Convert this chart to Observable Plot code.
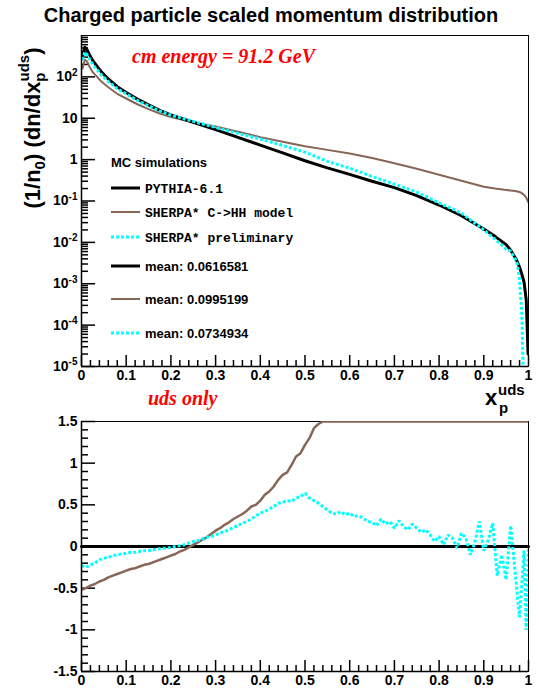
<!DOCTYPE html>
<html><head><meta charset="utf-8">
<script src="https://cdn.jsdelivr.net/npm/d3@7"></script>
<script src="https://cdn.jsdelivr.net/npm/@observablehq/plot@0.6"></script>
<style>
body{margin:0;background:#fff;}
#wrap{position:relative;width:539px;height:692px;overflow:hidden;font-family:"Liberation Sans",Arial,sans-serif;}
#wrap svg{position:absolute;left:0;}
</style></head><body><div id="wrap"></div>
<script>
// ---------- data ----------
const xTop = [0.0025,0.0075,0.0125,0.0175,0.025,0.035,0.045,0.06,0.08,0.1,0.125,0.15,0.175,0.2,0.25,0.3,0.35,0.4,0.45,0.5,0.55,0.6,0.65,0.7,0.75,0.8,0.85,0.9,0.925,0.95,0.96,0.97,0.975,0.98,0.985,0.99,0.995,0.999];
const pythiaTop = [330,520,450,350,250,180,130,89,58,42,29,21,15.5,12,8.0,5.3,3.45,2.25,1.45,0.94,0.63,0.44,0.30,0.21,0.135,0.08,0.044,0.021,0.014,0.0088,0.0065,0.0043,0.0034,0.0025,0.0017,0.0011,0.0004,0.00002];
const sherpaHHTop = [160,260,235,180,130,100,76,56,39,30,21.8,16.6,13,10.7,8.0,6.3,4.7,3.5,2.7,2.1,1.72,1.4,1.1,0.82,0.6,0.43,0.31,0.22,0.2,0.185,0.18,0.175,0.17,0.165,0.155,0.14,0.12,0.095];
const sherpaPrelTop = [255,400,345,273,200,148,110,77,52,38.6,27,20,15,11.9,8.4,6.0,4.3,3.15,2.2,1.52,0.91,0.62,0.39,0.256,0.165,0.09,0.051,0.020,0.012,0.0068,0.0062,0.0040,0.0030,0.0012,0.0002,0.000001,0.000001,0.000001];

const xRatioHH = [0,0.01,0.02,0.03,0.04,0.05,0.06,0.07,0.08,0.09,0.1,0.11,0.12,0.13,0.14,0.15,0.16,0.17,0.18,0.19,0.2,0.21,0.22,0.23,0.24,0.25,0.26,0.27,0.28,0.29,0.3,0.31,0.32,0.33,0.34,0.35,0.36,0.37,0.38,0.39,0.4,0.41,0.42,0.43,0.44,0.45,0.46,0.47,0.48,0.49,0.5,0.51,0.52,0.53,0.54,1.0];
const ratioHH = [-0.52,-0.50,-0.47,-0.45,-0.42,-0.40,-0.37,-0.35,-0.33,-0.31,-0.29,-0.27,-0.26,-0.24,-0.22,-0.21,-0.19,-0.17,-0.15,-0.13,-0.11,-0.09,-0.06,-0.04,-0.01,0.02,0.05,0.08,0.11,0.15,0.19,0.22,0.26,0.29,0.33,0.36,0.39,0.43,0.48,0.50,0.55,0.62,0.66,0.72,0.80,0.86,0.89,0.98,1.08,1.12,1.22,1.30,1.42,1.47,1.5,1.5];

const xRatioPrel = [0,0.01,0.02,0.03,0.04,0.05,0.06,0.07,0.08,0.09,0.1,0.11,0.12,0.13,0.14,0.15,0.16,0.17,0.18,0.19,0.2,0.21,0.22,0.23,0.24,0.25,0.26,0.27,0.28,0.29,0.3,0.31,0.32,0.33,0.34,0.35,0.36,0.37,0.38,0.39,0.4,0.41,0.42,0.43,0.44,0.45,0.46,0.47,0.48,0.49,0.5,0.51,0.52,0.53,0.54,0.55,0.56,0.57,0.58,0.59,0.6,0.61,0.62,0.63,0.64,0.65,0.66,0.67,0.68,0.69,0.7,0.71,0.72,0.73,0.74,0.75,0.76,0.77,0.78,0.79,0.8,0.81,0.82,0.83,0.84,0.85,0.86,0.87,0.88,0.89,0.9,0.91,0.92,0.93,0.94,0.95,0.96,0.97,0.98,0.99,0.995,1.0];
const ratioPrel = [-0.23,-0.25,-0.22,-0.20,-0.16,-0.14,-0.13,-0.11,-0.10,-0.09,-0.08,-0.07,-0.07,-0.06,-0.05,-0.05,-0.04,-0.03,-0.02,-0.02,-0.01,0.00,0.01,0.02,0.04,0.06,0.07,0.09,0.11,0.12,0.14,0.16,0.18,0.20,0.23,0.25,0.28,0.30,0.33,0.37,0.40,0.42,0.45,0.48,0.52,0.53,0.55,0.54,0.58,0.60,0.64,0.58,0.55,0.52,0.48,0.44,0.40,0.39,0.42,0.38,0.40,0.36,0.37,0.34,0.30,0.29,0.25,0.33,0.27,0.30,0.22,0.31,0.24,0.20,0.27,0.22,0.17,0.20,0.14,0.06,0.12,0.02,0.14,0.10,-0.02,0.16,0.10,-0.10,0.05,0.30,-0.05,0.08,0.28,-0.35,-0.10,-0.40,0.25,-0.30,-0.85,-0.05,-1.0,0.0];

const xRatioPythia = [0, 1];
const ratioPythia = [0, 0];

const xMajor = [0,0.1,0.2,0.3,0.4,0.5,0.6,0.7,0.8,0.9,1];
const xMinorTicks = [0.02,0.04,0.06,0.08,0.12,0.14,0.16,0.18,0.22,0.24,0.26,0.28,0.32,0.34,0.36,0.38,0.42,0.44,0.46,0.48,0.52,0.54,0.56,0.58,0.62,0.64,0.66,0.68,0.72,0.74,0.76,0.78,0.82,0.84,0.86,0.88,0.92,0.94,0.96,0.98];
const yTopTicks = [1e-5,1e-4,1e-3,1e-2,1e-1,1,10,100];
const yTopLabels = ["10^-5","10^-4","10^-3","10^-2","10^-1","1","10","10^2"];
const yBotTicks = [-1.5,-1,-0.5,0,0.5,1,1.5];
const yBotLabels = ["-1.5","-1","-0.5","0","0.5","1","1.5"];

const legendNames = ["PYTHIA-6.1","SHERPA* C->HH model","SHERPA* preliminary"];
const legendMeans = ["mean: 0.0616581","mean: 0.0995199","mean: 0.0734934"];

// ---------- styles / layout ----------
const C_PY = "black", C_HH = "#876656", C_PR = "#00ffff";
const TICK = "black";
const rows = (xs, ys) => xs.map((x, i) => ({x, y: ys[i]}));
const W = 539, ML = 81, MR = 11;
const FW = W - ML - MR;
const TOP = {h: 392, mt: 35, mb: 26};
const BOT = {h: 287, mt: 16, mb: 21};
const fh = q => q.h - q.mt - q.mb;

const yTopMinor = [];
for (let k = -5; k <= 2; k++) for (let m = 2; m <= 9; m++) yTopMinor.push(m * Math.pow(10, k));
const yBotMinor = [];
for (let v = -14; v <= 14; v++) if (v % 5 !== 0) yBotMinor.push(v / 10);

const baseStyle = {background: "transparent", fontFamily: "Liberation Sans, Arial, sans-serif", fontSize: "14px", fontWeight: "bold", color: "black", overflow: "visible"};
const dotted = {stroke: C_PR, strokeWidth: 3, strokeDasharray: "3,2", strokeLinecap: "butt", strokeLinejoin: "miter"};

function innerTicks(q, yMajorT, yMinorT) {
  const H = fh(q);
  return [
    Plot.ruleX(xMinorTicks, {x: d => d, insetTop: H - 6, stroke: TICK, strokeWidth: 1.5}),
    Plot.ruleX(xMajor, {x: d => d, insetTop: H - 11, stroke: TICK, strokeWidth: 1.5}),
    Plot.ruleY(yMinorT, {y: d => d, insetRight: FW - 7, stroke: TICK, strokeWidth: 1.5}),
    Plot.ruleY(yMajorT, {y: d => d, insetRight: FW - 14, stroke: TICK, strokeWidth: 1.5})
  ];
}

const topPlot = Plot.plot({
  width: W, height: TOP.h,
  marginLeft: ML, marginRight: MR, marginTop: TOP.mt, marginBottom: TOP.mb,
  style: baseStyle,
  x: {domain: [0, 1]},
  y: {type: "log", domain: [1e-5, 1e3]},
  marks: [
    Plot.frame({stroke: "black"}),
    ...innerTicks(TOP, yTopTicks, yTopMinor),
    Plot.line(rows(xTop, sherpaHHTop), {x: "x", y: "y", stroke: C_HH, strokeWidth: 2, clip: true}),
    Plot.line(rows(xTop, pythiaTop), {x: "x", y: "y", stroke: C_PY, strokeWidth: 3, clip: true}),
    Plot.line(rows(xTop, sherpaPrelTop), {x: "x", y: "y", ...dotted, clip: true}),
    Plot.ruleX([0], {stroke: "black", strokeWidth: 1.5}),
    Plot.ruleY([1e-5], {stroke: "black", strokeWidth: 1.5}),
    Plot.axisX(xMajor, {tickSize: 0, tickPadding: 4, tickFormat: d => String(d), label: null}),
    Plot.axisY(yTopTicks, {tickSize: 0, tickPadding: 4, tickFormat: d => yTopLabels[yTopTicks.indexOf(d)], label: null})
  ]
});

topPlot.querySelectorAll('g[aria-label="y-axis tick label"] text').forEach(t => {
  const m = t.textContent.match(/^10\^(.+)$/);
  if (m) {
    t.textContent = "10";
    const ts = document.createElementNS("http://www.w3.org/2000/svg", "tspan");
    ts.setAttribute("dy", "-0.55em");
    ts.setAttribute("font-size", "10px");
    ts.textContent = m[1];
    t.appendChild(ts);
  }
});

const botPlot = Plot.plot({
  width: W, height: BOT.h,
  marginLeft: ML, marginRight: MR, marginTop: BOT.mt, marginBottom: BOT.mb,
  style: baseStyle,
  x: {domain: [0, 1]},
  y: {domain: [-1.5, 1.5]},
  marks: [
    Plot.frame({stroke: "black"}),
    ...innerTicks(BOT, yBotTicks, yBotMinor),
    Plot.line(rows(xRatioPythia, ratioPythia), {x: "x", y: "y", stroke: C_PY, strokeWidth: 3}),
    Plot.line(rows(xRatioHH, ratioHH), {x: "x", y: "y", stroke: C_HH, strokeWidth: 2.5, clip: true}),
    Plot.line(rows(xRatioPrel, ratioPrel), {x: "x", y: "y", ...dotted, clip: true}),
    Plot.ruleX([0], {stroke: "black", strokeWidth: 1.5}),
    Plot.ruleY([-1.5], {stroke: "black", strokeWidth: 1.5}),
    Plot.axisX(xMajor, {tickSize: 0, tickPadding: 4, tickFormat: d => String(d), label: null}),
    Plot.axisY(yBotTicks, {tickSize: 0, tickPadding: 4, tickFormat: d => yBotLabels[yBotTicks.indexOf(d)], label: null})
  ]
});

const wrap = document.getElementById("wrap");
topPlot.style.top = "0px";
botPlot.style.top = "405px";
wrap.appendChild(topPlot);
wrap.appendChild(botPlot);

// ---------- annotations ----------
const NS = "http://www.w3.org/2000/svg";
const ov = document.createElementNS(NS, "svg");
ov.setAttribute("width", W); ov.setAttribute("height", 692);
ov.style.top = "0px";
ov.style.pointerEvents = "none";
const sans = 'font-family="Liberation Sans, Arial, sans-serif" font-weight="bold"';
const serifRed = 'font-family="Liberation Serif, Times New Roman, serif" font-weight="bold" font-style="italic" fill="#ff0000"';
const mono = 'font-family="Liberation Mono, Courier New, monospace" font-weight="bold"';
const legY = [188, 212, 237];
const meanY = [266, 299, 333];
const legStyle = [
  `stroke="${C_PY}" stroke-width="3"`,
  `stroke="${C_HH}" stroke-width="2"`,
  `stroke="${C_PR}" stroke-width="3" stroke-dasharray="3,2"`
];
let html = `
<text x="271" y="22" text-anchor="middle" font-size="20" ${sans}>Charged particle scaled momentum distribution</text>
<text transform="translate(40,128) rotate(-90)" text-anchor="middle" font-size="22" ${sans}>(1/n<tspan dy="5" font-size="15">0</tspan><tspan dy="-5">) (dn/dx</tspan><tspan dy="5" font-size="15">p</tspan><tspan dx="-9" dy="-16" font-size="15">uds</tspan><tspan dy="11">)</tspan></text>
<text x="132" y="63" font-size="20" ${serifRed}>cm energy = 91.2 GeV</text>
<text x="148" y="405" font-size="20" ${serifRed}>uds only</text>
<text x="485" y="405" font-size="22" ${sans}>x</text>
<text x="498" y="395" font-size="15" ${sans}>uds</text>
<text x="499" y="413" font-size="15" ${sans}>p</text>
<text x="111" y="167" font-size="13" ${sans}>MC simulations</text>`;
legendNames.forEach((n, i) => {
  html += `<line x1="111" x2="140" y1="${legY[i]}" y2="${legY[i]}" ${legStyle[i]}/>`;
  html += `<text x="145" y="${legY[i]}" dy="0.35em" font-size="13" ${mono}>${n.replace(/>/g, "&gt;")}</text>`;
});
legendMeans.forEach((n, i) => {
  html += `<line x1="111" x2="140" y1="${meanY[i]}" y2="${meanY[i]}" ${legStyle[i]}/>`;
  html += `<text x="145" y="${meanY[i]}" dy="0.35em" font-size="13" ${sans}>${n}</text>`;
});
ov.innerHTML = html;
wrap.appendChild(ov);
</script>
</body></html>
